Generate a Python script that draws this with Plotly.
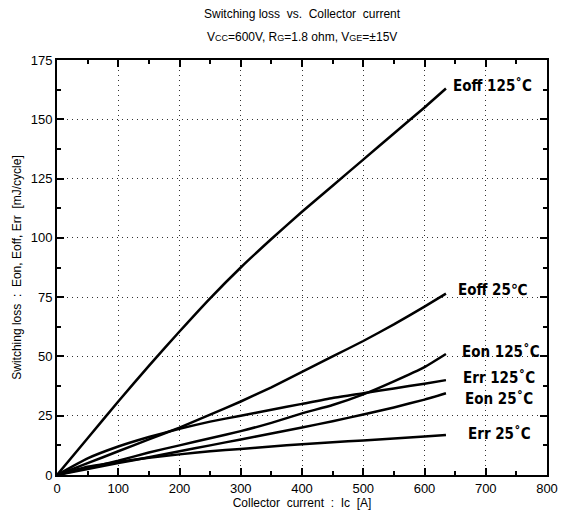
import plotly.graph_objects as go

# Collector current [A]
ic = [0, 50, 100, 150, 200, 250, 300, 350, 400, 450, 500, 550, 600, 635]

# Switching losses [mJ/cycle]
eoff_125 = [0, 15.5, 31, 46, 60.5, 74.5, 87.5, 99.5, 111, 122, 133, 144, 155, 163]
eoff_25 = [0, 5, 10, 15, 20, 25.5, 31, 37, 43.5, 50, 56.5, 63.5, 71, 76.5]
eon_125 = [0, 3, 6, 9.5, 12.5, 15.5, 18.5, 22, 26, 29.5, 34, 39.5, 45.5, 51]
err_125 = [0, 7, 12, 16, 19.5, 22.5, 25, 27.5, 30, 32.5, 34.5, 36.5, 38.5, 40]
eon_25 = [0, 2.5, 5, 7.5, 10, 12.5, 15, 17.5, 20, 22.7, 25.5, 28.5, 31.8, 34.5]
err_25 = [0, 3.5, 5.5, 7.3, 8.7, 10, 11, 12, 13, 13.8, 14.6, 15.4, 16.2, 16.9]

series = [eoff_125, eoff_25, eon_125, err_125, eon_25, err_25]

# Curve labels and where they sit (data coordinates)
labels = ["Eoff 125˚C", "Eoff 25℃", "Eon 125˚C", "Err 125˚C", "Eon 25˚C", "Err 25˚C"]
label_x = [643, 651, 658, 660, 663, 667]
label_y = [164, 78, 52, 41, 32, 17.5]

x_ticks = [0, 100, 200, 300, 400, 500, 600, 700, 800]
y_ticks = [0, 25, 50, 75, 100, 125, 150, 175]

fig = go.Figure()
for ys in series:
    fig.add_trace(go.Scatter(
        x=ic, y=ys, mode="lines",
        line=dict(color="black", width=2.5, shape="spline", smoothing=0.5),
        showlegend=False, hoverinfo="skip",
    ))

for txt, lx, ly in zip(labels, label_x, label_y):
    fig.add_annotation(
        x=lx, y=ly, text=txt, showarrow=False, xanchor="left", yanchor="middle",
        font=dict(family="DejaVu Sans Condensed", size=15, color="black", weight="bold"),
    )

# Two-line heading above the plot
fig.add_annotation(
    xref="paper", yref="paper", x=0.5, y=1.111, xanchor="center", yanchor="middle",
    text="Switching loss  vs.  Collector  current", showarrow=False,
    font=dict(family="Liberation Sans", size=12, color="black"),
)
fig.add_annotation(
    xref="paper", yref="paper", x=0.5, y=1.055, xanchor="center", yanchor="middle",
    text="V<span style='font-size:9px'>CC</span>=600V, "
         "R<span style='font-size:9px'>G</span>=1.8 ohm, "
         "V<span style='font-size:9px'>GE</span>=±15V",
    showarrow=False,
    font=dict(family="Liberation Sans", size=12, color="black"),
)

axis_common = dict(
    showline=True, linecolor="black", linewidth=2, mirror="allticks",
    ticks="inside", ticklen=7, tickwidth=2, tickcolor="black",
    showgrid=True, gridcolor="#333", gridwidth=1.3, griddash="1px,4px",
    zeroline=False,
    tickfont=dict(family="Liberation Sans", size=13, color="black"),
)

fig.update_xaxes(
    range=[0, 800], tickvals=x_ticks, ticktext=[str(v) for v in x_ticks],
    minor=dict(dtick=50, tick0=0, ticks="inside", ticklen=4, tickwidth=2,
               tickcolor="black", showgrid=False),
    title=dict(text="Collector  current  :  Ic  [A]",
               font=dict(family="Liberation Sans", size=12, color="black"),
               standoff=4),
    **axis_common,
)
fig.update_yaxes(
    range=[0, 175], tickvals=y_ticks, ticktext=[str(v) for v in y_ticks],
    minor=dict(dtick=12.5, tick0=0, ticks="inside", ticklen=4, tickwidth=2,
               tickcolor="black", showgrid=False),
    title=dict(text="Switching loss  :  Eon, Eoff, Err  [mJ/cycle]",
               font=dict(family="Liberation Sans", size=12, color="black"),
               standoff=6),
    **axis_common,
)

fig.update_layout(
    width=570, height=527,
    margin=dict(l=57, r=17, t=60, b=52),
    paper_bgcolor="white", plot_bgcolor="white",
)

fig.write_html("out.html")
